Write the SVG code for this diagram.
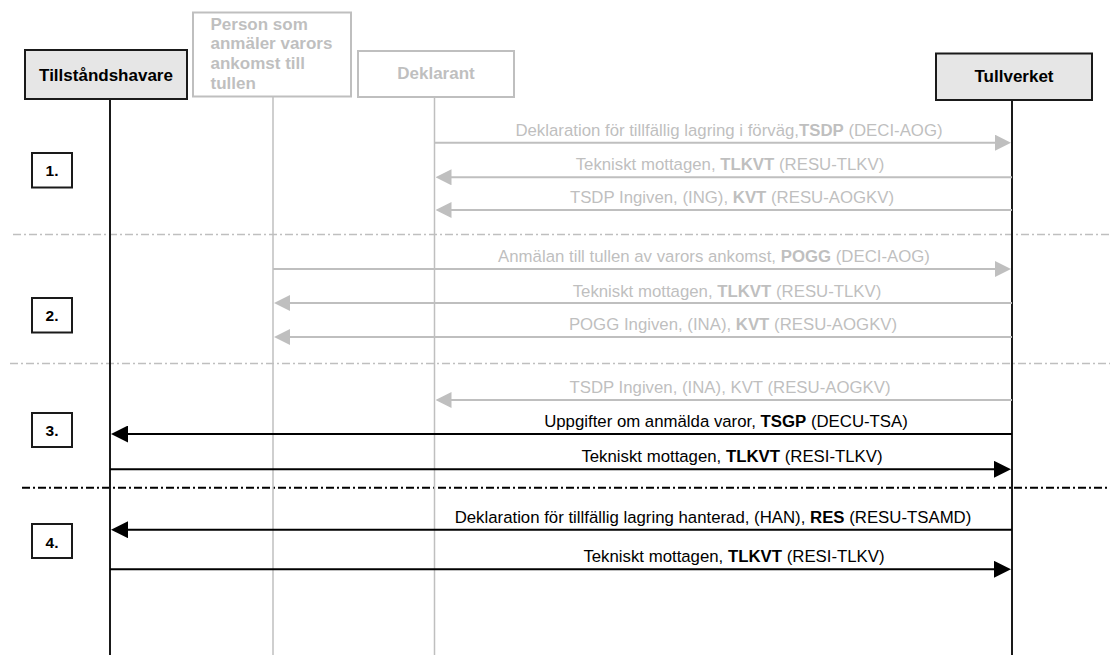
<svg xmlns="http://www.w3.org/2000/svg" width="1110" height="655" viewBox="0 0 1110 655">
<style>
  text { font-family: "Liberation Sans", Arial, sans-serif; }
  .hdr { font-size: 17px; font-weight: bold; }
  .msg { font-size: 16.8px; text-anchor: middle; }
  .g { fill: #bfbfbf; }
  .k { fill: #000; }
  .b { font-weight: bold; }
  .boxA { fill: #e6e6e6; stroke: #1a1a1a; stroke-width: 2; }
  .boxG { fill: #fff; stroke: #bfbfbf; stroke-width: 2; }
  .step { fill: #fff; stroke: #1a1a1a; stroke-width: 2; }
  .stepT { font-size: 15.5px; font-weight: bold; text-anchor: middle; fill: #000; }
  .lifeK { stroke: #1a1a1a; stroke-width: 2; }
  .lifeG { stroke: #bfbfbf; stroke-width: 1.5; }
  .sepG { stroke: #bfbfbf; stroke-width: 1.5; stroke-dasharray: 8 3 2 3; fill: none; }
  .sepK { stroke: #000; stroke-width: 2; stroke-dasharray: 8 3 2 3; fill: none; }
  .arG { stroke: #bfbfbf; stroke-width: 2; fill: none; marker-end: url(#headG); }
  .arK { stroke: #000; stroke-width: 2; fill: none; marker-end: url(#headK); }
</style>
<defs>
  <marker id="headG" markerUnits="userSpaceOnUse" markerWidth="16" markerHeight="16" refX="8" refY="8" orient="auto" viewBox="0 0 16 16">
    <path d="M0,0 L16,8 L0,16 z" fill="#bfbfbf"/>
  </marker>
  <marker id="headK" markerUnits="userSpaceOnUse" markerWidth="17" markerHeight="17" refX="8.5" refY="8.5" orient="auto" viewBox="0 0 17 17">
    <path d="M0,0 L17,8.5 L0,17 z" fill="#000"/>
  </marker>
</defs>

<g id="separators">
  <line class="sepG" x1="13" y1="234.5" x2="1110" y2="234.5"/>
  <line class="sepG" x1="10" y1="363.5" x2="1110" y2="363.5"/>
  <line class="sepK" x1="22" y1="487.7" x2="1110" y2="487.7"/>
</g>

<g id="lifelines">
  <line class="lifeK" x1="110" y1="99" x2="110" y2="655"/>
  <line class="lifeG" x1="273" y1="97" x2="273" y2="655"/>
  <line class="lifeG" x1="434.5" y1="97" x2="434.5" y2="655"/>
  <line class="lifeK" x1="1012" y1="100" x2="1012" y2="655"/>
</g>

<g id="node-tillstandshavare">
  <rect class="boxA" x="25" y="50" width="162" height="49"/>
  <text class="hdr" x="106" y="81" text-anchor="middle" fill="#000">Tillståndshavare</text>
</g>
<g id="node-person">
  <rect class="boxG" x="193" y="12.5" width="158" height="84"/>
  <text class="hdr g" x="210.5" y="29.5">Person som</text>
  <text class="hdr g" x="210.5" y="49.2">anmäler varors</text>
  <text class="hdr g" x="210.5" y="68.9">ankomst till</text>
  <text class="hdr g" x="210.5" y="88.6">tullen</text>
</g>
<g id="node-deklarant">
  <rect class="boxG" x="358" y="51" width="156" height="46"/>
  <text class="hdr g" x="436" y="79" text-anchor="middle">Deklarant</text>
</g>
<g id="node-tullverket">
  <rect class="boxA" x="936" y="53.5" width="156" height="46.5"/>
  <text class="hdr" x="1014" y="81.7" text-anchor="middle" fill="#000">Tullverket</text>
</g>

<g id="step-1"><rect class="step" x="32" y="153" width="40" height="34.5"/><text class="stepT" x="52" y="176">1.</text></g>
<g id="step-2"><rect class="step" x="32" y="298" width="40" height="34.5"/><text class="stepT" x="52" y="321">2.</text></g>
<g id="step-3"><rect class="step" x="32" y="413" width="40" height="34"/><text class="stepT" x="52" y="436">3.</text></g>
<g id="step-4"><rect class="step" x="32" y="524" width="40" height="34"/><text class="stepT" x="52" y="547.5">4.</text></g>

<g id="connectors">
  <line class="arG" x1="434.5" y1="142.7" x2="1003" y2="142.7"/>
  <line class="arG" x1="1012" y1="177.3" x2="443.5" y2="177.3"/>
  <line class="arG" x1="1012" y1="210" x2="443.5" y2="210"/>
  <line class="arG" x1="273" y1="269" x2="1003" y2="269"/>
  <line class="arG" x1="1012" y1="303" x2="282" y2="303"/>
  <line class="arG" x1="1012" y1="337" x2="282" y2="337"/>
  <line class="arG" x1="1012" y1="400" x2="443.5" y2="400"/>
  <line class="arK" x1="1012" y1="434" x2="119.5" y2="434"/>
  <line class="arK" x1="110" y1="469.3" x2="1002.5" y2="469.3"/>
  <line class="arK" x1="1012" y1="529.7" x2="119.5" y2="529.7"/>
  <line class="arK" x1="110" y1="569.3" x2="1002.5" y2="569.3"/>

  <text class="msg g" x="729" y="135.7">Deklaration för tillfällig lagring i förväg,<tspan class="b">TSDP</tspan> (DECI-AOG)</text>
  <text class="msg g" x="730" y="170">Tekniskt mottagen, <tspan class="b">TLKVT</tspan> (RESU-TLKV)</text>
  <text class="msg g" x="732" y="203">TSDP Ingiven, (ING), <tspan class="b">KVT</tspan> (RESU-AOGKV)</text>
  <text class="msg g" x="714" y="262">Anmälan till tullen av varors ankomst, <tspan class="b">POGG</tspan> (DECI-AOG)</text>
  <text class="msg g" x="727" y="296.5">Tekniskt mottagen, <tspan class="b">TLKVT</tspan> (RESU-TLKV)</text>
  <text class="msg g" x="733" y="330">POGG Ingiven, (INA), <tspan class="b">KVT</tspan> (RESU-AOGKV)</text>
  <text class="msg g" x="730" y="393">TSDP Ingiven, (INA), KVT (RESU-AOGKV)</text>
  <text class="msg k" x="726" y="427">Uppgifter om anmälda varor, <tspan class="b">TSGP</tspan> (DECU-TSA)</text>
  <text class="msg k" x="732" y="462">Tekniskt mottagen, <tspan class="b">TLKVT</tspan> (RESI-TLKV)</text>
  <text class="msg k" x="713" y="522.5">Deklaration för tillfällig lagring hanterad, (HAN), <tspan class="b">RES</tspan> (RESU-TSAMD)</text>
  <text class="msg k" x="734" y="562">Tekniskt mottagen, <tspan class="b">TLKVT</tspan> (RESI-TLKV)</text>
</g>
</svg>
